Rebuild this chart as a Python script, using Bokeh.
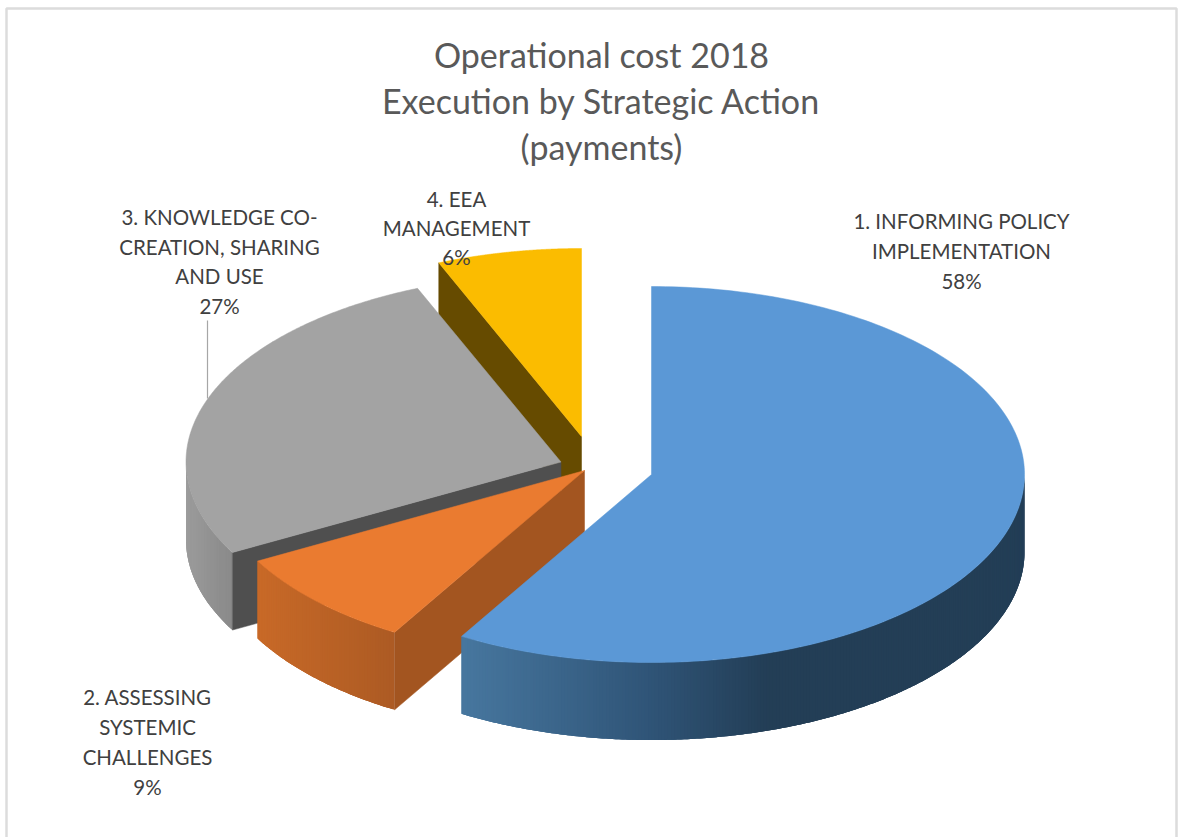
import numpy as np
from bokeh.plotting import figure
from bokeh.embed import file_html
from bokeh.resources import INLINE
from bokeh.core.properties import value

# ---- data ----
categories = ["1. INFORMING POLICY IMPLEMENTATION", "2. ASSESSING SYSTEMIC CHALLENGES",
              "3. KNOWLEDGE CO-CREATION, SHARING AND USE", "4. EEA MANAGEMENT"]
shares = [58.5, 8.5, 26.75, 6.25]
percent_labels = ["58%", "9%", "27%", "6%"]
title_lines = ["Operational cost 2018", "Execution by Strategic Action", "(payments)"]
label_lines = [["1. INFORMING POLICY", "IMPLEMENTATION"],
               ["2. ASSESSING", "SYSTEMIC", "CHALLENGES"],
               ["3. KNOWLEDGE CO-", "CREATION, SHARING", "AND USE"],
               ["4. EEA", "MANAGEMENT"]]

# ---- layout / style ----
W, H = 1182, 837
RY, DEPTH = 188.0, 77.5
RX = [373.0, 373.0, 375.0, 373.0]
apex = [(651, 474), (584, 470), (560.5, 461.5), (581, 436)]
top_col = ["#5b98d6", "#ea7b30", "#a3a3a3", "#fbbc00"]
cut_col = ["#2a4a68", "#a35520", "#4f4f4f", "#664b00"]
wall_stops = [
    ([459, 650, 770, 1030], [(0x48, 0x78, 0xa0), (0x30, 0x55, 0x78), (0x23, 0x3e, 0x56), (0x23, 0x3e, 0x56)]),
    ([257, 395], [(0xc9, 0x6a, 0x28), (0xad, 0x5b, 0x24)]),
    ([185, 233], [(0x9c, 0x9c, 0x9c), (0x8a, 0x8a, 0x8a)]),
    ([0, 1], [(0, 0, 0), (0, 0, 0)]),
]
labels_xy = [(961, 220), (147, 696.5), (219, 216.5), (456, 198)]
label_pitch = [30, 30, 29.5, 29]

p = figure(width=W, height=H, x_range=(0, W), y_range=(H, 0), output_backend="svg",
           toolbar_location=None, min_border=0, margin=(0, 0, 0, 0),
           outline_line_color=None, background_fill_color="white")
p.axis.visible = False
p.grid.visible = False

# chart frame (open at the bottom)
p.line([6, 6, 1176, 1176], [H, 8, 8, H], line_color="#dcdcdc", line_width=2.5)

edges = np.cumsum([0] + shares) / sum(shares) * 360.0


def rim(i, deg):
    a = np.radians(deg)
    return apex[i][0] + RX[i] * np.sin(a), apex[i][1] - RY * np.cos(a)


def colour(i, x):
    xs, cs = wall_stops[i]
    rgb = [int(np.interp(x, xs, [c[k] for c in cs])) for k in range(3)]
    return "#%02x%02x%02x" % tuple(rgb)


def draw_slice(i):
    a0, a1 = edges[i], edges[i + 1]
    ax, ay = apex[i]
    # outer wall, only the part facing the viewer; each strip overlaps the next
    lo, hi = max(a0, 90.0), min(a1, 270.0)
    if lo < hi:
        ang = np.arange(lo, hi, 0.5).tolist() + [hi]
        xs, ys, cols = [], [], []
        for k in range(len(ang) - 1):
            run = np.array(ang[k:k + 4])
            rx_, ry_ = rim(i, run)
            xs.append(list(rx_) + list(rx_[::-1]))
            ys.append(list(ry_) + list((ry_ + DEPTH)[::-1]))
            cols.append(colour(i, rx_[0]))
        p.patches(xs, ys, fill_color=cols, line_color=None)
    # visible cut face: the clockwise-start edge for slices 2-4
    if i > 0:
        cx, cy = rim(i, a0)
        p.patch([ax, cx, cx, ax], [ay, cy, cy + DEPTH, ay + DEPTH],
                fill_color=cut_col[i], line_color=cut_col[i], line_width=0.5)
    # top face
    ang = np.linspace(a0, a1, 200)
    rx, ry = rim(i, ang)
    p.patch([ax, *rx], [ay, *ry], fill_color=top_col[i], line_color=top_col[i], line_width=0.5)


for i in [3, 2, 1, 0]:
    draw_slice(i)

# leader line of label 3
p.line([207, 207], [320, 398], line_color="#a6a6a6", line_width=1.2)

# title
for k, t in enumerate(title_lines):
    p.text([601], [54 + 46 * k], text=[t], text_font=value("Lato"), text_font_size="34px",
           text_color="#595959", text_align="center", text_baseline="middle")

# data labels
for i, lines in enumerate(label_lines):
    lx, ly = labels_xy[i]
    for k, t in enumerate(lines + [percent_labels[i]]):
        p.text([lx], [ly + label_pitch[i] * k], text=[t], text_font=value("Lato"),
               text_font_size="20.5px", text_color="#404040", text_align="center",
               text_baseline="middle")

open("out.html", "w").write(file_html(p, INLINE))
